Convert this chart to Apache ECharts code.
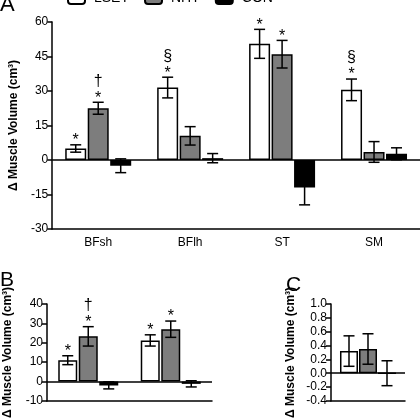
<!DOCTYPE html>
<html>
<head>
<meta charset="utf-8">
<script src="https://cdn.jsdelivr.net/npm/echarts@6/dist/echarts.min.js"></script>
<style>
  html, body { margin: 0; padding: 0; background: #fff; }
  #chart { width: 420px; height: 420px; }
</style>
</head>
<body>
<div id="chart"></div>
<script>
const FONT = "Liberation Sans, Arial, sans-serif";
const groupNames = ["LSET", "NHT", "CON"];
const groupColors = ["#ffffff", "#7d7d7d", "#000000"];

// panel A
const aCategories = ["BFsh", "BFlh", "ST", "SM"];
const aLset = [5, 31.5, 50.5, 30.5];
const aLsetErr = [1.6, 4.5, 6.3, 4.7];
const aLsetMarks = [["*"], ["*", "§"], ["*"], ["*", "§"]];
const aNht = [22.5, 10.5, 46, 3.5];
const aNhtErr = [2.6, 4, 6, 4.5];
const aNhtMarks = [["*", "†"], [], ["*"], []];
const aCon = [-2.5, 0.8, -12, 2.7];
const aConErr = [3, 2, 7.5, 2.6];
const aTicks = { min: -30, max: 60, interval: 15 };

// panel B (category labels fall below the picture)
const bCategories = ["1", "2"];
const bLset = [11, 21.2];
const bLsetErr = [2.3, 2.9];
const bLsetMarks = [["*"], ["*"]];
const bNht = [23.3, 27];
const bNhtErr = [5, 4.2];
const bNhtMarks = [["*", "†"], ["*"]];
const bCon = [-2, -1.2];
const bConErr = [1.8, 1.6];
const bTicks = { min: -10, max: 40, interval: 10 };

// panel C
const cCategories = ["1"];
const cLset = [0.32];
const cLsetErr = [0.22];
const cNht = [0.35];
const cNhtErr = [0.22];
const cCon = [0.0];
const cConErr = [0.18];
const cTicks = { min: -0.4, max: 1.0, interval: 0.2 };

const chart = echarts.init(document.getElementById("chart"));

const panels = [
  { grid: { left: 44, top: 22, width: 377, height: 207 }, cats: aCategories, ticks: aTicks, barW: 21, gap: 1.5, nameGap: 31, showLabels: true,
    sets: [[aLset, aLsetErr, aLsetMarks], [aNht, aNhtErr, aNhtMarks], [aCon, aConErr, []]] },
  { grid: { left: 47, top: 304, width: 165, height: 111 }, cats: bCategories, ticks: bTicks, barW: 19, gap: 1.5, nameGap: 33, showLabels: false,
    sets: [[bLset, bLsetErr, bLsetMarks], [bNht, bNhtErr, bNhtMarks], [bCon, bConErr, []]] },
  { grid: { left: 331, top: 304, width: 74, height: 112 }, cats: cCategories, ticks: cTicks, barW: 18, gap: 1, nameGap: 34, showLabels: false,
    sets: [[cLset, cLsetErr, []], [cNht, cNhtErr, []], [cCon, cConErr, []]] }
];

function errorSeries(idx, values, errs, marks, offset) {
  return {
    type: "custom",
    xAxisIndex: idx,
    yAxisIndex: idx,
    z: 5,
    silent: true,
    data: values.map((v, i) => [i, v, errs[i]]),
    renderItem: (params, api) => {
      const i = api.value(0), v = api.value(1), e = api.value(2);
      const top = api.coord([i, v + e]);
      const bot = api.coord([i, v - e]);
      const x = top[0] + offset;
      const style = { stroke: "#000", lineWidth: 1.5 };
      const children = [
        { type: "line", shape: { x1: x, y1: top[1], x2: x, y2: bot[1] }, style },
        { type: "line", shape: { x1: x - 5.5, y1: top[1], x2: x + 5.5, y2: top[1] }, style },
        { type: "line", shape: { x1: x - 5.5, y1: bot[1], x2: x + 5.5, y2: bot[1] }, style }
      ];
      (marks[params.dataIndex] || []).forEach((m, k) => {
        children.push({
          type: "text",
          style: {
            text: m, x: x, y: top[1] - (k === 0 ? 4 : 21),
            align: "center", verticalAlign: "middle",
            font: "16px " + FONT, fill: "#000"
          }
        });
      });
      return { type: "group", children };
    }
  };
}

const grids = [], xAxes = [], yAxes = [], series = [];
panels.forEach((p, idx) => {
  grids.push(p.grid);
  xAxes.push({
    type: "category", gridIndex: idx, data: p.cats,
    axisLine: { onZero: false, lineStyle: { color: "#000", width: 1.5 } },
    axisTick: { alignWithLabel: true, length: 5, lineStyle: { color: "#000", width: 1.5 } },
    axisLabel: { show: p.showLabels, color: "#000", fontFamily: FONT, fontSize: 12, margin: 8 },
    splitLine: { show: false }
  });
  yAxes.push({
    type: "value", gridIndex: idx, min: p.ticks.min, max: p.ticks.max, interval: p.ticks.interval,
    name: "Δ Muscle Volume (cm³)", nameLocation: "middle", nameGap: p.nameGap,
    nameTextStyle: { color: "#000", fontFamily: FONT, fontSize: 12, fontWeight: "bold" },
    axisLine: { show: true, lineStyle: { color: "#000", width: 1.5 } },
    axisTick: { show: true, length: 5, lineStyle: { color: "#000", width: 1.5 } },
    axisLabel: {
      color: "#000", fontFamily: FONT, fontSize: 12, margin: 4,
      formatter: v => idx === 2 ? Number(v).toFixed(1) : String(Math.round(v))
    },
    splitLine: { show: false }
  });
  const step = p.barW + p.gap;
  p.sets.forEach(([vals, errs, marks], g) => {
    const bar = {
      type: "bar", name: groupNames[g], xAxisIndex: idx, yAxisIndex: idx,
      data: vals, barWidth: p.barW, barGap: (p.gap / p.barW * 100).toFixed(1) + "%",
      itemStyle: { color: groupColors[g], borderColor: "#000", borderWidth: 1.5 },
      silent: true
    };
    if (g === 0) {
      bar.markLine = {
        silent: true, symbol: ["none", "none"], label: { show: false },
        lineStyle: { color: "#000", width: 1.5, type: "solid" },
        data: [{ yAxis: 0 }], animation: false
      };
    }
    series.push(bar);
    series.push(errorSeries(idx, vals, errs, marks, (g - 1) * step));
  });
});

chart.setOption({
  animation: false,
  backgroundColor: "#fff",
  legend: {
    data: groupNames, top: -9, left: 67, padding: 0, itemWidth: 17, itemHeight: 12, itemGap: 15,
    textStyle: { color: "#000", fontFamily: FONT, fontSize: 14, padding: [0, 0, 0, 4] },
    selectedMode: false
  },
  graphic: [
    { type: "text", left: 0, top: -6, style: { text: "A", font: "22px " + FONT, fill: "#000" } },
    { type: "text", left: 0, top: 270, style: { text: "B", font: "21px " + FONT, fill: "#000" } },
    { type: "text", left: 286, top: 275, style: { text: "C", font: "21px " + FONT, fill: "#000" } }
  ],
  grid: grids,
  xAxis: xAxes,
  yAxis: yAxes,
  series
});
</script>
</body>
</html>
